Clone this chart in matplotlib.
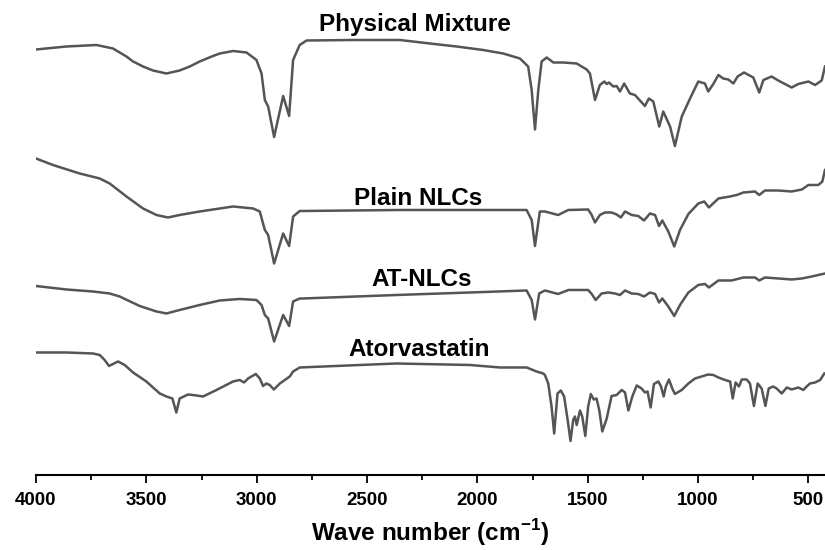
import matplotlib
matplotlib.use("Agg")
import matplotlib.pyplot as plt
from matplotlib.ticker import MultipleLocator

plt.rcParams['font.family'] = ['Liberation Sans', 'DejaVu Sans']
plt.rcParams['font.weight'] = 'bold'
plt.rcParams['mathtext.fontset'] = 'custom'
plt.rcParams['mathtext.rm'] = 'Liberation Sans:bold'
plt.rcParams['mathtext.bf'] = 'Liberation Sans:bold'

# FTIR spectra: wavenumber (cm-1) vs offset transmittance (a.u.)
pm_wn = [4000, 3862, 3726, 3651, 3590, 3560, 3515, 3470, 3409, 3349, 3303, 3258, 3198,
         3167, 3107, 3046, 3001, 2978,
         2963, 2948, 2921, 2880, 2853, 2835, 2805, 2774, 2563, 2351, 2215, 2094, 1974,
         1883, 1807, 1770,
         1754, 1739, 1724, 1709, 1686, 1656, 1611, 1550, 1505, 1490, 1467, 1445, 1425,
         1414, 1404, 1384, 1369, 1354, 1335, 1309, 1286, 1241, 1223, 1203, 1176, 1158,
         1127, 1105, 1074, 1029, 999, 969, 954, 931, 908, 886, 863, 840, 821, 792, 750,
         723, 704, 667, 637, 576, 546, 500, 470, 440, 425]
pm_t = [85.1, 85.7, 86.0, 85.3, 83.7, 82.7, 81.7, 80.9, 80.3, 80.9, 81.7, 82.7, 83.8,
        84.3, 84.8, 84.5, 83.0, 80.3,
        75.0, 73.7, 67.6, 75.8, 71.8, 83.0, 86.0, 86.9, 87.0, 87.0, 86.3, 85.7, 85.0,
        84.3, 83.3, 81.7,
        77.0, 69.1, 77.0, 82.7, 83.5, 82.5, 82.5, 82.3, 81.1, 80.3, 75.0, 78.0, 78.7,
        78.2, 78.5, 77.7, 77.8, 76.7, 78.3, 76.3, 76.0, 73.8, 75.3, 74.7, 69.7, 72.7,
        69.7, 65.8, 71.7, 76.0, 78.7, 78.3, 76.7, 78.2, 80.0, 79.3, 79.1, 78.3, 79.7, 80.5, 79.5,
        76.5, 79.0, 79.7, 78.9, 77.5, 78.2, 78.7, 78.0, 78.9, 81.7]

plain_wn = [4000, 3923, 3802, 3711, 3666, 3590, 3515, 3454, 3402, 3349, 3258, 3167, 3107,
            3016, 2986, 2963, 2948, 2921, 2880, 2853, 2835, 2805, 2790, 2351, 2034, 1777,
            1754, 1739, 1717, 1694, 1634, 1588, 1498, 1482, 1467, 1445, 1422, 1392, 1369,
            1350, 1331, 1301, 1271, 1245, 1218, 1195, 1177, 1162, 1135, 1108, 1082, 1044,
            999, 972, 951, 908, 855, 825, 795, 742, 723, 697, 636, 576, 530, 500, 455, 437, 425]
plain_t = [63.3, 62.0, 60.3, 59.3, 58.3, 55.7, 53.3, 52.0, 51.5, 52.0, 52.7, 53.3, 53.7,
           53.3, 52.7, 49.0, 48.0, 42.3, 48.3, 45.8, 51.7, 52.8, 52.8, 53.0, 53.0, 53.0,
           51.0, 45.8, 52.7, 52.7, 52.0, 53.0, 53.1, 52.0, 50.5, 52.0, 52.5, 52.5, 52.1,
           51.5, 52.7, 52.0, 51.8, 50.9, 52.3, 52.0, 49.8, 50.9, 48.7, 45.7, 49.0, 52.2,
           54.3, 54.7, 53.5, 55.3, 55.7, 56.0, 56.5, 56.7, 56.0, 56.9, 56.9, 56.7, 57.1, 58.0, 58.0, 58.7, 61.0]

at_wn = [4000, 3862, 3742, 3666, 3621, 3530, 3454, 3409, 3349, 3258, 3167, 3077, 3001,
         2978, 2963, 2948, 2921, 2880, 2853, 2835, 2805, 2790, 2366, 2034, 1777, 1754,
         1739, 1720, 1694, 1634, 1588, 1498, 1482, 1464, 1437, 1407, 1377, 1354, 1331,
         1301, 1271, 1245, 1218, 1195, 1177, 1162, 1135, 1108, 1082, 1044, 999, 969, 951,
         908, 848, 795, 742, 723, 697, 636, 576, 530, 485, 425]
at_t = [37.8, 37.1, 36.7, 36.3, 35.7, 33.8, 32.7, 32.3, 33.0, 34.0, 34.9, 35.2, 35.0,
        34.0, 32.0, 31.3, 26.7, 32.0, 29.8, 34.7, 35.3, 35.3, 36.0, 36.5, 36.9, 35.0,
        31.1, 36.3, 36.9, 36.2, 37.0, 37.0, 36.2, 35.0, 36.3, 36.5, 36.3, 36.0, 36.9,
        36.3, 36.2, 35.7, 36.5, 36.2, 34.5, 35.3, 33.7, 31.8, 34.0, 36.5, 38.0, 38.2, 37.5,
        38.9, 38.9, 39.5, 39.5, 38.9, 39.5, 39.3, 39.1, 39.3, 39.7, 40.3]

ator_wn = [4000, 3862, 3742, 3711, 3689, 3669, 3651, 3628, 3598, 3560, 3500, 3439, 3409,
           3382, 3364, 3349, 3311, 3273, 3243, 3182, 3107, 3077, 3057, 3039, 3004, 2986,
           2971, 2956, 2941, 2922, 2895, 2850, 2835, 2805, 2366, 2034, 1898, 1777, 1732,
           1702, 1694, 1679, 1664, 1652, 1637, 1622, 1607, 1591, 1578, 1566, 1558, 1550,
           1535, 1525, 1511, 1498, 1486, 1473, 1460, 1448, 1434, 1414, 1392, 1369, 1346,
           1331, 1316, 1298, 1278, 1256, 1241, 1229, 1215, 1200, 1180, 1168, 1156, 1146,
           1132, 1117, 1105, 1074, 1044, 1014, 954, 931, 908, 878, 855, 843, 830, 815, 802,
           780, 765, 747, 730, 712, 695, 680, 660, 644, 621, 598, 576, 546, 523, 508, 493,
           470, 447, 428]
ator_t = [24.5, 24.5, 24.3, 24.0, 23.0, 21.8, 22.2, 22.7, 22.0, 20.5, 18.7, 16.3, 15.7,
          15.3, 12.5, 15.3, 16.1, 15.9, 15.7, 17.0, 18.7, 19.0, 18.5, 19.3, 20.2, 19.3,
          17.8, 18.3, 18.0, 17.1, 18.3, 19.7, 20.7, 21.5, 22.3, 22.0, 21.5, 21.5, 20.7,
          20.3, 20.0, 18.3, 13.7, 8.3, 16.3, 16.9, 15.7, 11.0, 6.8, 11.0, 11.7, 10.0,
          12.9, 11.7, 7.8, 13.7, 16.2, 15.1, 15.3, 13.0, 8.7, 11.3, 15.8, 16.0, 17.0,
          16.5, 12.9, 15.7, 17.9, 17.3, 16.5, 16.7, 13.5, 18.2, 18.7, 17.7, 15.7, 17.7,
          19.1, 17.3, 16.2, 17.0, 18.3, 19.3, 20.1, 20.0, 19.5, 19.0, 18.7, 15.3, 18.5, 17.7, 19.1,
          19.1, 18.3, 13.8, 18.3, 17.3, 13.8, 17.3, 17.7, 17.3, 16.3, 17.5, 17.1, 17.5, 17.0, 17.7, 18.3,
          18.5, 19.0, 20.3]

names = ['Physical Mixture', 'Plain NLCs', 'AT-NLCs', 'Atorvastatin']
label_wn = [2284, 2269, 2253, 2265]
label_t = [88.7, 54.0, 37.8, 23.7]

fig = plt.figure(figsize=(8.25, 5.5), dpi=100)
ax = fig.add_axes([0.0436, 0.1364, 0.9564, 0.8636])

line_color = '#555555'
for wn, t in [(pm_wn, pm_t), (plain_wn, plain_t), (at_wn, at_t), (ator_wn, ator_t)]:
    ax.plot(wn, t, color=line_color, lw=1.8, solid_joinstyle='round')

for name, x, y in zip(names, label_wn, label_t):
    ax.text(x, y, name, ha='center', va='baseline', fontsize=17.5, fontweight='bold')

ax.set_xlim(4000, 425)
ax.set_ylim(0, 95)
ax.xaxis.set_major_locator(MultipleLocator(500))
ax.xaxis.set_minor_locator(MultipleLocator(250))
ax.tick_params(axis='x', which='major', length=6, width=1.3, labelsize=13.5, pad=6)
ax.tick_params(axis='x', which='minor', length=3.5, width=1.3)
ax.set_yticks([])
for s in ['left', 'top', 'right']:
    ax.spines[s].set_visible(False)
ax.spines['bottom'].set_linewidth(1.5)
ax.set_xlabel(r'Wave number (cm$^{\mathbf{-1}}$)', fontsize=17.5, fontweight='bold', labelpad=6)

fig.savefig('out.png', dpi=100)
